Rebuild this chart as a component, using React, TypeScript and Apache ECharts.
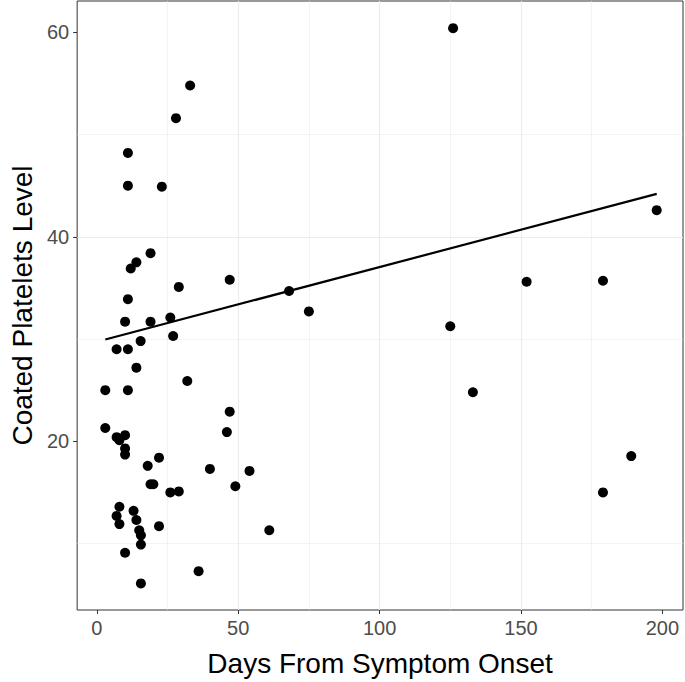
import React, { useEffect, useRef } from "react";
import * as echarts from "echarts";

const days = [
  126, 33, 28, 11, 11, 23, 198, 19, 14, 12, 47, 152, 179, 29, 68, 11, 75, 26, 10, 19,
  125, 27, 15.5, 7, 11, 14, 32, 3, 11, 133, 47, 3, 46, 10, 7, 8, 10, 10, 189, 22,
  18, 40, 54, 19, 20, 49, 29, 26, 179, 8, 13, 7, 14, 8, 22, 15, 61, 15.6, 15.6, 10,
  36, 15.6,
];
const levels = [
  60.4, 54.8, 51.6, 48.2, 45.0, 44.9, 42.6, 38.4, 37.5, 36.9, 35.8, 35.6, 35.7, 35.1, 34.7, 33.9, 32.7, 32.1, 31.7, 31.7,
  31.25, 30.3, 29.8, 29.0, 29.0, 27.2, 25.9, 25.0, 25.0, 24.8, 22.9, 21.3, 20.9, 20.6, 20.4, 20.1, 19.3, 18.7, 18.55, 18.4,
  17.6, 17.3, 17.1, 15.8, 15.8, 15.6, 15.1, 15.0, 15.0, 13.6, 13.2, 12.7, 12.3, 11.9, 11.7, 11.3, 11.3, 10.8, 9.9, 9.1,
  7.3, 6.1,
];
const fitX = [3, 198];
const fitY = [29.95, 44.2];
const xTicks = [0, 50, 100, 150, 200];
const yTicks = [20, 40, 60];
const xTitle = "Days From Symptom Onset";
const yTitle = "Coated Platelets Level";

const FONT = "Liberation Sans, Arial, sans-serif";

export default function App() {
  const ref = useRef<HTMLDivElement>(null);
  useEffect(() => {
    if (!ref.current) return;
    const chart = echarts.init(ref.current, undefined, { renderer: "svg" });
    const grid = "#EBEBEB";
    chart.setOption({
      animation: false,
      backgroundColor: "#ffffff",
      grid: {
        left: 76,
        right: 2,
        top: 1,
        bottom: 71,
        show: true,
        borderColor: "#333333",
        borderWidth: 1,
        backgroundColor: "transparent",
        containLabel: false,
      },
      xAxis: {
        type: "value",
        min: -6.95,
        max: 207.3,
        splitNumber: 5,
        minInterval: 50,
        maxInterval: 50,
        name: xTitle,
        nameLocation: "middle",
        nameGap: 39,
        nameTextStyle: { fontFamily: FONT, fontSize: 28, color: "#000000" },
        axisLine: { show: false, onZero: false },
        axisTick: {
          show: true,
          length: 4,
          customValues: xTicks,
          lineStyle: { color: "#333333", width: 1 },
        },
        axisLabel: {
          customValues: xTicks,
          margin: 8,
          fontFamily: FONT,
          fontSize: 20,
          color: "#4D4D4D",
        },
        splitLine: { show: true, showMinLine: false, showMaxLine: false, lineStyle: { color: grid, width: 1.1 } },
        minorTick: { show: false, splitNumber: 2 },
        minorSplitLine: { show: true, lineStyle: { color: grid, width: 0.6 } },
      },
      yAxis: {
        type: "value",
        min: 3.5,
        max: 63.06,
        splitNumber: 3,
        minInterval: 20,
        maxInterval: 20,
        name: yTitle,
        nameLocation: "middle",
        nameGap: 40,
        nameTextStyle: { fontFamily: FONT, fontSize: 28, color: "#000000" },
        axisLine: { show: false, onZero: false },
        axisTick: {
          show: true,
          length: 4,
          customValues: yTicks,
          lineStyle: { color: "#333333", width: 1 },
        },
        axisLabel: {
          customValues: yTicks,
          margin: 8,
          fontFamily: FONT,
          fontSize: 20,
          color: "#4D4D4D",
        },
        splitLine: { show: true, showMinLine: false, showMaxLine: false, lineStyle: { color: grid, width: 1.1 } },
        minorTick: { show: false, splitNumber: 2 },
        minorSplitLine: { show: true, lineStyle: { color: grid, width: 0.6 } },
      },
      series: [
        {
          type: "scatter",
          data: days.map((d, i) => [d, levels[i]]),
          symbolSize: 10,
          itemStyle: { color: "#000000", opacity: 1 },
          z: 3,
        },
        {
          type: "line",
          data: fitX.map((x, i) => [x, fitY[i]]),
          showSymbol: false,
          lineStyle: { color: "#000000", width: 2.2 },
          z: 4,
        },
      ],
    });
    return () => chart.dispose();
  }, []);
  return (
    <div
      ref={ref}
      style={{ position: "absolute", left: 0, top: 0, width: 685, height: 682 }}
    />
  );
}
